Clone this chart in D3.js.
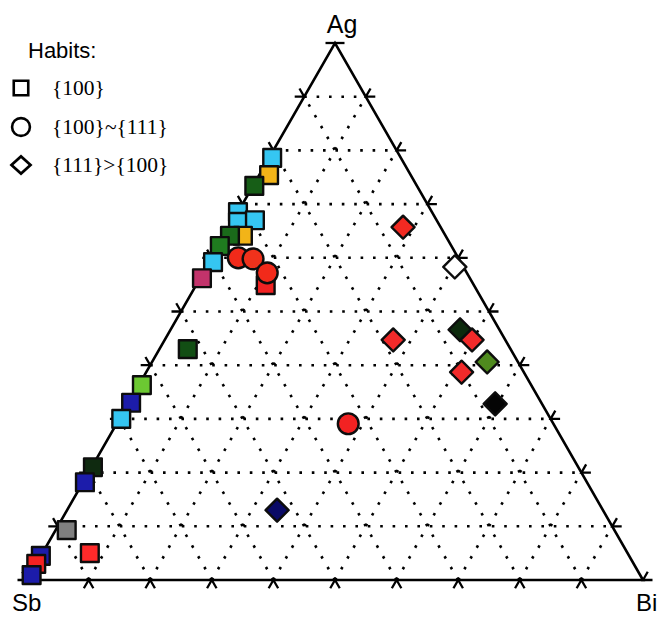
<!DOCTYPE html>
<html>
<head>
<meta charset="utf-8">
<script src="https://cdn.jsdelivr.net/npm/d3@7"></script>
<style>
  html, body { margin: 0; padding: 0; background: #fff; }
  svg { display: block; }
</style>
</head>
<body>
<svg id="chart" width="662" height="618"></svg>
<script>
// Ag–Sb–Bi compositions (atom %), grouped by crystal habit
const habitNames = ["{100}", "{100}~{111}", "{111}>{100}"];
const habit = [
  0,0,0,0,0,0,0,0,0,0,0,0,0,0,0,0,0,0,0,0,0,0,0,
  1,1,1,1,
  2,2,2,2,2,2,2,2,2
];
const ag = [
  78.6, 75.4, 73.4, 68.5, 66.7, 67.0, 64.1, 64.1, 62.2, 59.2, 56.2, 54.9, 43.0, 36.3, 33.0, 30.0, 21.0, 18.2, 9.3, 5.0, 4.5, 3.0, 0.9,
  60.0, 59.8, 57.2, 29.1,
  65.7, 58.3, 46.6, 44.7, 44.7, 40.6, 38.7, 32.8, 13.0
];
const bi = [
  0.5, 1.6, 0.2, 0.0, 0.9, 3.5, 3.0, 0.9, 0.2, 0.6, 0.3, 11.3, 4.6, 0.5, 0.4, 0.3, 0.2, 0.3, 1.8, 7.7, 0.0, 0.0, 0.3,
  4.3, 6.8, 10.4, 37.6,
  28.2, 40.3, 47.0, 49.9, 37.1, 54.4, 51.2, 59.6, 34.1
];
const sb = [
  20.9, 23.0, 26.4, 31.5, 32.4, 29.5, 32.9, 35.0, 37.6, 40.2, 43.5, 33.8, 52.4, 63.2, 66.6, 69.7, 78.8, 81.5, 88.9, 87.3, 95.5, 97.0, 98.8,
  35.7, 33.4, 32.4, 33.3,
  6.1, 1.4, 6.4, 5.4, 18.2, 5.0, 10.1, 7.6, 52.9
];
const fills = [
  "#35c6f2", "#f2b418", "#175e17", "#35c6f2", "#35c6f2", "#35c6f2", "#f2b418", "#1a6a1a", "#1f7c1f", "#35c6f2", "#c2336b", "#f22222", "#124e14", "#6cc832", "#1c1caa", "#35c6f2", "#0f2a10", "#1c1caa", "#808080", "#ff2a2a", "#1c1caa", "#f22222", "#1c1caa",
  "#f22a1a", "#f0321c", "#f22a1a", "#f22222",
  "#f22a22", "#ffffff", "#0d2a0d", "#f22a2a", "#f22a2a", "#4f8a1e", "#f22a2a", "#050505", "#0a0a66"
];
const cornerLabels = ["Ag", "Sb", "Bi"];
const gridSteps = [10, 20, 30, 40, 50, 60, 70, 80, 90];
const tickSteps = [10, 20, 30, 40, 50, 60, 70, 80, 90];

const svg = d3.select("#chart");

// Ag maps to height, Bi (plus half of Ag) maps across the base
const yScale = d3.scaleLinear().domain([0, 100]).range([580, 43]);
const xScale = d3.scaleLinear().domain([0, 100]).range([27, 643]);
const pos = (a, b) => [xScale(b + a / 2), yScale(a)];

const line = d3.line();

// dotted grid: constant Ag, constant Bi, constant Sb
const grid = svg.append("g")
  .attr("fill", "none")
  .attr("stroke", "#000")
  .attr("stroke-width", 2.6)
  .attr("stroke-dasharray", "2.6 9.8");
gridSteps.forEach(v => {
  grid.append("path").attr("d", line([pos(v, 0), pos(v, 100 - v)]));
  grid.append("path").attr("d", line([pos(0, v), pos(100 - v, v)]));
  grid.append("path").attr("d", line([pos(0, 100 - v), pos(100 - v, 0)]));
});

// triangle frame
const Apx = pos(100, 0), Spx = pos(0, 0), Bpx = pos(0, 100);
svg.append("path")
  .attr("d", line([Spx, Apx, Bpx]) + "Z")
  .attr("fill", "none")
  .attr("stroke", "#000")
  .attr("stroke-width", 2.6)
  .attr("stroke-linejoin", "miter");

// edge ticks: each is two short strokes continuing the grid lines outward
const L = 9.5;
const up = Math.sqrt(3) / 2;
const ticks = svg.append("g").attr("stroke", "#000").attr("stroke-width", 2.3).attr("fill", "none");
const tick = (p, d1, d2) => {
  ticks.append("path").attr("d", line([[p[0] + d1[0] * L, p[1] + d1[1] * L], p, [p[0] + d2[0] * L, p[1] + d2[1] * L]]));
};
tickSteps.forEach(v => {
  tick(pos(v, 0), [-1, 0], [-0.5, -up]);          // Sb–Ag edge
  tick(pos(v, 100 - v), [1, 0], [0.5, -up]);      // Ag–Bi edge
  tick(pos(0, v), [-0.5, up], [0.5, up]);         // Sb–Bi edge
});
// corner ticks
tick(Apx, [-1, 0], [1, 0]);
tick(Bpx, [1, 0], [0.5, -up]);
tick(Spx, [-1, 0], [-0.5, -up]);

// markers: squares, circles, and squares turned 45° for diamonds
const symbols = [d3.symbolSquare, d3.symbolCircle, d3.symbolSquare];
const sizes = [315, 340, 265];
const idx = d3.range(ag.length);
svg.append("g").selectAll("path")
  .data(idx)
  .join("path")
  .attr("transform", i => {
    const [x, y] = pos(ag[i], bi[i]);
    return `translate(${x},${y})` + (habit[i] === 2 ? " rotate(45)" : "");
  })
  .attr("d", i => d3.symbol(symbols[habit[i]], sizes[habit[i]])())
  .attr("fill", i => fills[i])
  .attr("stroke", "#0d0d0d")
  .attr("stroke-width", 2.4)
  .attr("stroke-linejoin", "round");

// corner labels
const labelFont = "'Liberation Sans', Arial, sans-serif";
svg.append("text").attr("x", Apx[0] + 7).attr("y", 33).attr("text-anchor", "middle")
  .attr("font-family", labelFont).attr("font-size", 25).text(cornerLabels[0]);
svg.append("text").attr("x", 12).attr("y", 611)
  .attr("font-family", labelFont).attr("font-size", 24).text(cornerLabels[1]);
svg.append("text").attr("x", 636).attr("y", 611)
  .attr("font-family", labelFont).attr("font-size", 24).text(cornerLabels[2]);

// legend
const legend = svg.append("g");
legend.append("text").attr("x", 28).attr("y", 58)
  .attr("font-family", labelFont).attr("font-size", 22).text("Habits:");
const legendY = [88, 127, 165];
habitNames.forEach((name, i) => {
  legend.append("path")
    .attr("transform", `translate(21,${legendY[i]})` + (i === 2 ? " scale(1.1,1) rotate(45)" : ""))
    .attr("d", d3.symbol(symbols[i], [210, 250, 150][i])())
    .attr("fill", "#fff")
    .attr("stroke", "#000")
    .attr("stroke-width", 2.6);
  legend.append("text").attr("x", 52).attr("y", legendY[i] + 7)
    .attr("font-family", "'Liberation Serif', 'Times New Roman', serif")
    .attr("font-size", 21.5).text(name);
});
</script>
</body>
</html>
